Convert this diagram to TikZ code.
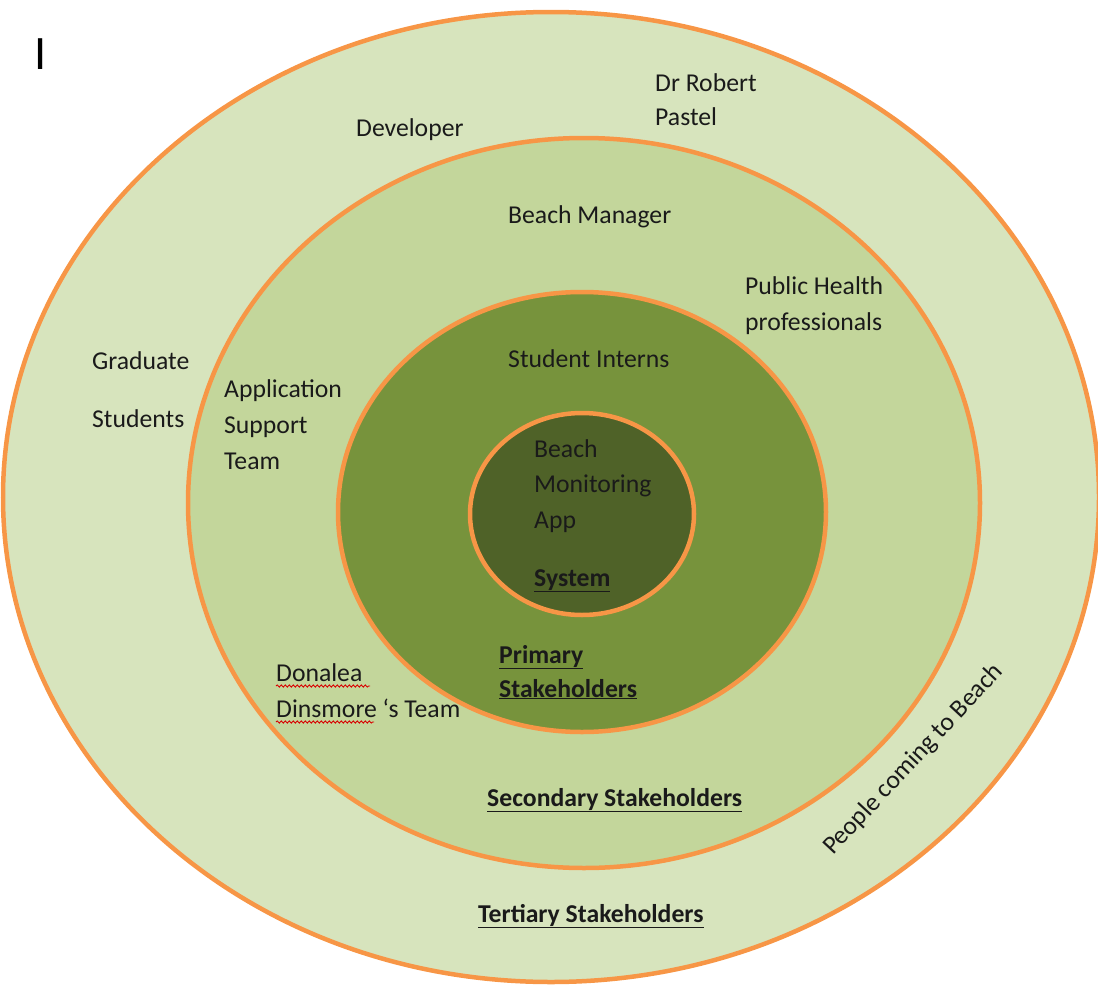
\documentclass[tikz,border=0pt]{standalone}
\usepackage{fontspec}
\setmainfont{Carlito}
\usetikzlibrary{decorations.pathmorphing}
\definecolor{ringorange}{HTML}{F79646}
\definecolor{tertfill}{HTML}{D7E4BD}
\definecolor{secfill}{HTML}{C3D69B}
\definecolor{primfill}{HTML}{77933C}
\definecolor{sysfill}{HTML}{4F6228}
\definecolor{inktext}{HTML}{1A1A1A}
\tikzset{
  ring/.style={draw=ringorange, line width=4.5pt},
  lbl/.style={anchor=base west, inner sep=0pt, text=inktext,
    font=\fontsize{25.7}{36}\selectfont},
  head/.style={lbl, font=\fontsize{25.7}{36}\selectfont\bfseries},
  spell/.style={draw=red!85!black, line width=0.9pt,
    decorate, decoration={snake, amplitude=1.1pt, segment length=4pt}}
}
\begin{document}
\begin{tikzpicture}[x=1pt, y=-1pt]
\useasboundingbox (0,0) rectangle (1098,985);

% concentric stakeholder rings
\fill[tertfill] (551,497) ellipse [x radius=548, y radius=485];
\draw[ring] (551,497) ellipse [x radius=548, y radius=485];
\draw[ring, fill=secfill] (584,503) ellipse [x radius=396, y radius=365];
\draw[ring, fill=primfill] (582,512) ellipse [x radius=244, y radius=220];
\draw[ring, fill=sysfill] (582,514) ellipse [x radius=112, y radius=101];

% cursor mark
\node[anchor=base west, inner sep=0pt, font=\fontsize{48}{48}\selectfont] (cursor) at (34,69) {I};

% tertiary ring
\node[lbl] (robert1) at (655,91) {Dr Robert};
\node[lbl] (robert2) at (655,125) {Pastel};
\node[lbl] (dev) at (356,136) {Developer};
\node[lbl] (grad1) at (92,369) {Graduate};
\node[lbl] (grad2) at (92,427) {Students};
\node[lbl, rotate=47] (people) at (833,856) {People coming to Beach};
\node[head] (tert) at (478,922) {\underline{Tertiary Stakeholders}};

% secondary ring
\node[lbl] (manager) at (508,223) {Beach Manager};
\node[lbl] (health1) at (745,294) {Public Health};
\node[lbl] (health2) at (745,330) {professionals};
\node[lbl] (support1) at (224,397) {Application};
\node[lbl] (support2) at (224,433) {Support};
\node[lbl] (support3) at (224,469) {Team};
\node[lbl] (team1) at (276,681) {Donalea};
\node[lbl] (team2) at (276,717) {Dinsmore ‘s Team};
\node[head] (sec) at (487,806) {\underline{Secondary Stakeholders}};

% spell-check marks under the names
\draw[spell] (team1.base west) ++(0,5) coordinate (sp1a) -- ++(94,0) coordinate (sp1b);
\draw[spell] (team2.base west) ++(0,5) coordinate (sp2a) -- ++(98,0) coordinate (sp2b);

% primary ring
\node[lbl] (interns) at (508,367) {Student Interns};
\node[head] (prim1) at (499,663) {\underline{Primary}};
\node[head] (prim2) at (499,697) {\underline{Stakeholders}};

% system core
\node[lbl] (app1) at (534,457) {Beach};
\node[lbl] (app2) at (534,492) {Monitoring};
\node[lbl] (app3) at (534,528) {App};
\node[head] (system) at (534,586) {\underline{System}};
\end{tikzpicture}
\end{document}
